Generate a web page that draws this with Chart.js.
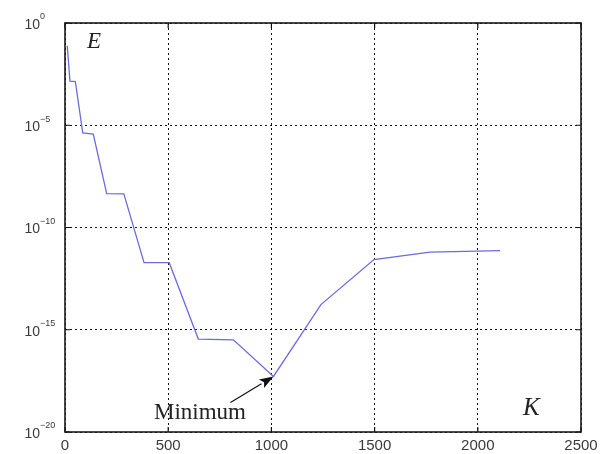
<!DOCTYPE html>
<html>
<head>
<meta charset="utf-8">
<script src="https://cdn.jsdelivr.net/npm/chart.js@4"></script>
<style>
    html, body { margin: 0; padding: 0; background: #fff; }
    #wrap { width: 610px; height: 454px; }
</style>
</head>
<body>
<div id="wrap"><canvas id="err-chart" width="610" height="454"></canvas></div>
<script>
// Iteration count K and error E along the run
const kValues = [11, 24, 50, 86, 137, 202, 285, 383, 505, 646, 816, 1010, 1240, 1497, 1768, 2108];
const eValues = [7.6e-2, 1.45e-3, 1.38e-3, 4.2e-6, 3.7e-6, 4.5e-9, 4.4e-9, 1.9e-12, 1.9e-12,
                 3.5e-16, 3.2e-16, 5.2e-18, 1.7e-14, 2.7e-12, 6.2e-12, 7.4e-12];

// Axis ticks
const xTicks = [0, 500, 1000, 1500, 2000, 2500];
const yTicks = [1e-20, 1e-15, 1e-10, 1e-5, 1];
const yExponents = ['\u221220', '\u221215', '\u221210', '\u22125', '0'];

// Point marked by the annotation
const minIndex = 11;

const labelFont = '"Liberation Sans", Arial, sans-serif';
const serifFont = '"Liberation Serif", "Times New Roman", serif';

// Frame, inside ticks, tick labels and annotations
const decorations = {
    id: 'decorations',
    afterDraw(chart) {
        const ctx = chart.ctx;
        const area = chart.chartArea;
        const xs = chart.scales.x;
        const ys = chart.scales.y;
        ctx.save();

        // inward tick marks
        ctx.strokeStyle = '#111';
        ctx.lineWidth = 1.2;
        ctx.beginPath();
        xTicks.forEach(v => {
            const px = xs.getPixelForValue(v);
            ctx.moveTo(px, area.bottom); ctx.lineTo(px, area.bottom - 5);
            ctx.moveTo(px, area.top); ctx.lineTo(px, area.top + 5);
        });
        yTicks.forEach(v => {
            const py = ys.getPixelForValue(v);
            ctx.moveTo(area.left, py); ctx.lineTo(area.left + 5, py);
            ctx.moveTo(area.right, py); ctx.lineTo(area.right - 5, py);
        });
        ctx.stroke();

        // box
        ctx.lineWidth = 1.6;
        ctx.strokeStyle = '#1a1a1a';
        ctx.strokeRect(area.left, area.top, area.right - area.left, area.bottom - area.top);

        // x tick labels
        ctx.fillStyle = '#3a3a3a';
        ctx.font = '15px ' + labelFont;
        ctx.textAlign = 'center';
        ctx.textBaseline = 'middle';
        xTicks.forEach(v => {
            ctx.fillText(String(v), xs.getPixelForValue(v), area.bottom + 14);
        });

        // y tick labels as 10^n
        yTicks.forEach((v, i) => {
            const py = ys.getPixelForValue(v) + 2;
            ctx.font = '14px ' + labelFont;
            ctx.textAlign = 'right';
            ctx.fillText('10', 40, py);
            ctx.font = '9px ' + labelFont;
            ctx.textAlign = 'left';
            ctx.fillText(yExponents[i], 40, py - 8);
        });

        // axis letters
        ctx.fillStyle = '#222';
        ctx.textAlign = 'left';
        ctx.textBaseline = 'alphabetic';
        ctx.font = 'italic 23px ' + serifFont;
        ctx.fillText('E', 87, 48);
        ctx.font = 'italic 25px ' + serifFont;
        ctx.fillText('K', 523, 415);

        // Minimum label with arrow
        const tipX = xs.getPixelForValue(kValues[minIndex]);
        const tipY = ys.getPixelForValue(eValues[minIndex]);
        const tailX = tipX - 43, tailY = tipY + 26;
        ctx.font = '23px ' + serifFont;
        ctx.fillText('Minimum', 154, 419);

        const ang = Math.atan2(tipY - tailY, tipX - tailX);
        const headLen = 14, headW = 5;
        const baseX = tipX - headLen * Math.cos(ang);
        const baseY = tipY - headLen * Math.sin(ang);
        ctx.strokeStyle = '#111';
        ctx.lineWidth = 1.2;
        ctx.beginPath();
        ctx.moveTo(tailX, tailY);
        ctx.lineTo(baseX, baseY);
        ctx.stroke();
        ctx.fillStyle = '#111';
        ctx.beginPath();
        ctx.moveTo(tipX, tipY);
        ctx.lineTo(baseX + headW * Math.sin(ang), baseY - headW * Math.cos(ang));
        ctx.lineTo(baseX + 3 * Math.cos(ang), baseY + 3 * Math.sin(ang));
        ctx.lineTo(baseX - headW * Math.sin(ang), baseY + headW * Math.cos(ang));
        ctx.closePath();
        ctx.fill();

        ctx.restore();
    }
};

const ctx = document.getElementById('err-chart').getContext('2d');
const errChart = new Chart(ctx, {
    type: 'line',
    data: {
        datasets: [{
            data: kValues.map((k, i) => ({ x: k, y: eValues[i] })),
            borderColor: '#6b6be0',
            borderWidth: 1.3,
            pointRadius: 0,
            tension: 0,
            fill: false
        }]
    },
    options: {
        responsive: false,
        animation: false,
        devicePixelRatio: 1,
        layout: { padding: { left: 65, top: 23, right: 29, bottom: 22 } },
        plugins: {
            legend: { display: false },
            tooltip: { enabled: false }
        },
        scales: {
            x: {
                type: 'linear',
                min: 0,
                max: 2500,
                afterBuildTicks: (scale) => { scale.ticks = xTicks.map(v => ({ value: v })); },
                grid: { color: '#111', lineWidth: 1, drawTicks: false },
                border: { display: false, dash: [2, 3] },
                ticks: { display: false }
            },
            y: {
                type: 'logarithmic',
                min: 1e-20,
                max: 1,
                afterBuildTicks: (scale) => { scale.ticks = yTicks.map(v => ({ value: v })); },
                grid: { color: '#111', lineWidth: 1, drawTicks: false },
                border: { display: false, dash: [2, 3] },
                ticks: { display: false }
            }
        }
    },
    plugins: [decorations]
});
</script>
</body>
</html>
